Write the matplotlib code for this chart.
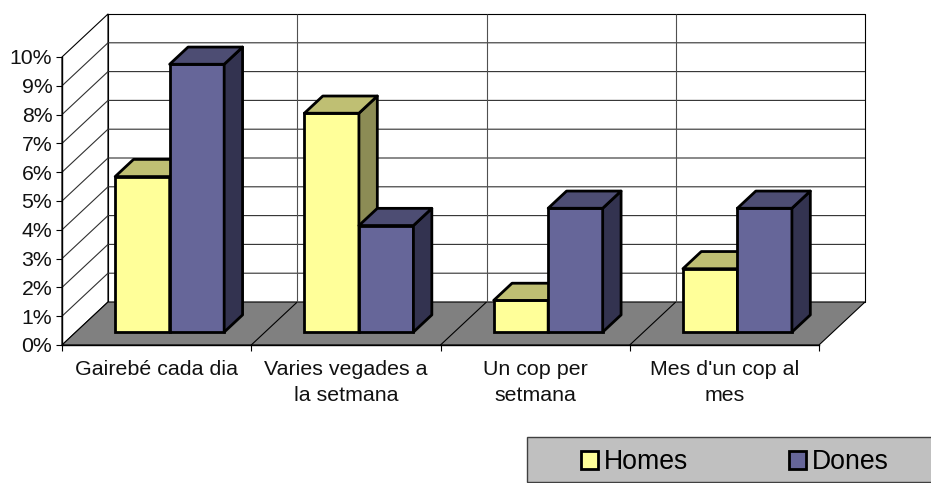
import matplotlib
matplotlib.use('Agg')
import matplotlib.pyplot as plt
from matplotlib.patches import Polygon, Rectangle

plt.rcParams['font.family'] = ['Liberation Sans', 'DejaVu Sans']

# values, in percent
categories = ['Gairebé cada dia', 'Varies vegades a\nla setmana', 'Un cop per\nsetmana', "Mes d'un cop al\nmes"]
homes = [5.4, 7.6, 1.1, 2.2]
dones = [9.3, 3.7, 4.3, 4.3]
y_ticks = list(range(0, 11))
y_labels = ['%d%%' % v for v in y_ticks]

W, H = 931, 483
fig = plt.figure(figsize=(W / 100, H / 100), dpi=100)
# front plane of the fake 3d box, in pixels
ax = fig.add_axes([62 / W, (H - 345) / H, (819 - 62) / W, (345 - 57) / H])
ax.set_xlim(0, 4)
ax.set_ylim(0, 10)
ax.patch.set_visible(False)

# how far the back wall sits from the front plane, in data units
depth_x = 46 / 189.25
depth_y = 43 / 28.8
bar_w = 0.288
gap = 0.208
bar_front = 0.30  # share of the depth where the bars start
bar_back = 0.70


def poly(pts, color, z, lw=0.8):
    ax.add_patch(Polygon(pts, closed=True, facecolor=color, edgecolor='black', linewidth=lw, zorder=z, clip_on=False, joinstyle='round'))


def line(xs, ys, z=1.5, color='#303030', lw=0.8):
    ax.plot(xs, ys, color=color, lw=lw, zorder=z, clip_on=False, solid_capstyle='butt')


# walls and floor
poly([(0, 0), (depth_x, depth_y), (depth_x, 10 + depth_y), (0, 10)], 'white', 1)
poly([(depth_x, depth_y), (4 + depth_x, depth_y), (4 + depth_x, 10 + depth_y), (depth_x, 10 + depth_y)], 'white', 1)
poly([(0, 0), (4, 0), (4 + depth_x, depth_y), (depth_x, depth_y)], '#808080', 1.2)

for v in y_ticks[1:-1]:
    line([0, depth_x, 4 + depth_x], [v, v + depth_y, v + depth_y])
for i in range(1, 4):
    line([i + depth_x, i + depth_x], [depth_y, 10 + depth_y], color='#505050')
    line([i, i + depth_x], [0, depth_y], z=1.3, color='black')


def draw_bars(values, offset, front, top, side, label, z):
    base = bar_front * depth_y
    shift = bar_front * depth_x
    xs = [i + gap + offset + shift for i in range(len(values))]
    bars = ax.bar(xs, values, width=bar_w, bottom=base, align='edge', color=front, edgecolor='black',
                  linewidth=2.0, label=label, zorder=z, clip_on=False)
    dx = (bar_back - bar_front) * depth_x
    dy = (bar_back - bar_front) * depth_y
    for x, v in zip(xs, values):
        y0, y1 = base, base + v
        x1 = x + bar_w
        poly([(x1, y0), (x1 + dx, y0 + dy), (x1 + dx, y1 + dy), (x1, y1)], side, z, lw=2.0)
        poly([(x, y1), (x1, y1), (x1 + dx, y1 + dy), (x + dx, y1 + dy)], top, z, lw=2.0)
    return bars


b1 = draw_bars(homes, 0, '#FFFF99', '#BFBF73', '#8C8C55', 'Homes', 3)
b2 = draw_bars(dones, bar_w, '#666699', '#4D4D73', '#333350', 'Dones', 4)

# axes
for s in ['top', 'right']:
    ax.spines[s].set_visible(False)
for s in ['left', 'bottom']:
    ax.spines[s].set_linewidth(1.0)
    ax.spines[s].set_zorder(2)
ax.set_yticks(y_ticks)
ax.set_yticklabels(y_labels, fontsize=15.3, color='#111111')
ax.set_xticks(range(5))
ax.set_xticklabels([])
ax.set_xticks([i + 0.5 for i in range(4)], minor=True)
ax.set_xticklabels(categories, minor=True, fontsize=15.4, color='#111111', linespacing=1.48)
ax.tick_params(axis='y', length=4, width=0.8, pad=3)
ax.tick_params(axis='x', which='major', length=4, width=0.8)
ax.tick_params(axis='x', which='minor', length=0, pad=11)

# legend box sits on the bottom right corner
fig.add_artist(Rectangle((527 / W, 1 / H), 405 / W, 45 / H, transform=fig.transFigure, facecolor='#C0C0C0', edgecolor='#404040', linewidth=1.0))
leg = fig.legend(handles=[b1, b2], labels=['Homes', 'Dones'], ncols=2, frameon=False, fontsize=19.2,
                 loc='center left', bbox_to_anchor=(581 / W, 21 / H), handlelength=0.65, handleheight=0.65,
                 handletextpad=0.22, columnspacing=3.76, borderaxespad=0, borderpad=0)

fig.savefig('out.png', dpi=100)
